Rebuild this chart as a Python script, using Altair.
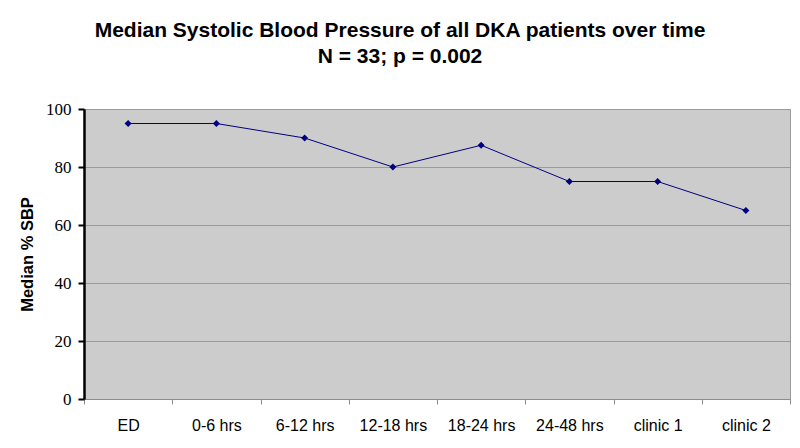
import altair as alt
import pandas as pd

categories = ["ED", "0-6 hrs", "6-12 hrs", "12-18 hrs", "18-24 hrs", "24-48 hrs", "clinic 1", "clinic 2"]
median_sbp = [95, 95, 90, 80, 87.5, 75, 75, 65]
y_ticks = [0, 20, 40, 60, 80, 100]
title_lines = ["Median Systolic Blood Pressure of all DKA patients over time", "N = 33; p = 0.002"]

df = pd.DataFrame({"period": categories, "sbp": median_sbp})

serif_font = "Liberation Serif"

base = alt.Chart(df).encode(
    x=alt.X(
        "period:N",
        sort=categories,
        scale=alt.Scale(type="band", paddingInner=0, paddingOuter=0),
        axis=alt.Axis(
            title=None,
            labelAngle=0,
            labelFont="Liberation Sans",
            labelFontSize=16,
            labelColor="black",
            labelPadding=13,
            tickBand="extent",
            tickColor="#8c8c8c",
            tickSize=5,
            domainColor="#8c8c8c",
            domainWidth=1,
            grid=False,
        ),
    ),
    y=alt.Y(
        "sbp:Q",
        scale=alt.Scale(domain=[0, 100], nice=False, zero=True),
        axis=alt.Axis(
            values=y_ticks,
            title="Median % SBP",
            titleFont="Liberation Sans",
            titleFontSize=16.5,
            titleFontWeight="bold",
            titleColor="black",
            titleAngle=270,
            titleAlign="center",
            titleBaseline="middle",
            titleX=-57,
            titleY=145,
            labelFont=serif_font,
            labelFontSize=17,
            labelColor="black",
            labelPadding=7,
            tickColor="black",
            tickWidth=2,
            tickSize=6,
            domainColor="black",
            domainWidth=2.5,
            grid=True,
            gridColor="#9a9a9a",
            gridWidth=1,
        ),
    ),
)

line = base.mark_line(color="#000080", strokeWidth=1)
points = base.mark_point(shape="diamond", filled=True, color="#000080", size=50, opacity=1)

chart = (
    alt.layer(line, points)
    .properties(
        width=706,
        height=290,
        autosize=alt.AutoSizeParams(type="none"),
        padding={"left": 76, "top": 101, "right": 2, "bottom": 41},
        background="white",
        title=alt.TitleParams(
            text=title_lines,
            font="Liberation Sans",
            fontSize=21,
            fontWeight="bold",
            color="black",
            lineHeight=26,
            anchor="middle",
            frame="group",
            dx=-37,
            dy=1,
            offset=34,
        ),
    )
    .configure_view(fill="#cccccc", stroke="#9a9a9a", strokeWidth=1)
)

chart.save("out.html", embed_options={"renderer": "svg", "actions": False})
